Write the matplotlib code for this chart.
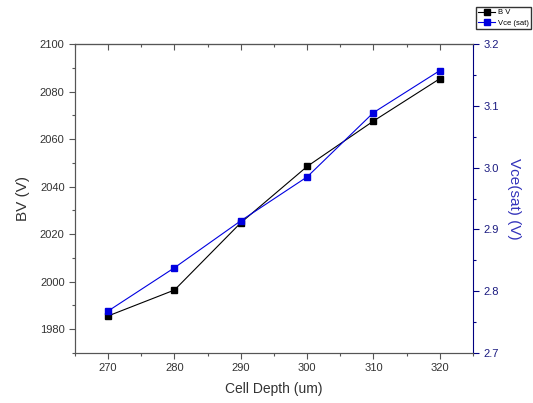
import matplotlib
matplotlib.use("Agg")
import matplotlib.pyplot as plt
from matplotlib.ticker import MultipleLocator

plt.rcParams['font.family'] = ['Liberation Sans', 'DejaVu Sans']

# data
cell_depth = [270, 280, 290, 300, 310, 320]
bv = [1985.6, 1996.5, 2024.8, 2048.5, 2067.6, 2085.4]
vce_sat = [2.768, 2.838, 2.914, 2.985, 3.089, 3.157]

fig = plt.figure(figsize=(5.33, 4.03), dpi=100)
ax = fig.add_axes([75 / 533, 1 - 353 / 403, (473 - 75) / 533, (353 - 44) / 403])
ax2 = ax.twinx()

l1, = ax.plot(cell_depth, bv, color='black', lw=0.8, marker='s', ms=5,
              label='B V', zorder=3)
l2, = ax2.plot(cell_depth, vce_sat, color='#0000e0', lw=0.8, marker='s', ms=5,
               label='Vce (sat)', zorder=3)

ax.set_xlim(265, 325)
ax.set_ylim(1970, 2100)
ax2.set_ylim(2.7, 3.2)

ax.xaxis.set_major_locator(MultipleLocator(10))
ax.xaxis.set_minor_locator(MultipleLocator(5))
ax.yaxis.set_major_locator(MultipleLocator(20))
ax.yaxis.set_minor_locator(MultipleLocator(10))
ax2.yaxis.set_major_locator(MultipleLocator(0.1))
ax2.yaxis.set_minor_locator(MultipleLocator(0.05))
ax2.yaxis.set_major_formatter(plt.FormatStrFormatter('%.1f'))

tick_gray = '#333333'
ax.tick_params(axis='both', which='major', length=4, width=0.8, labelsize=8,
               colors='#555555', labelcolor=tick_gray, direction='out')
ax.tick_params(axis='both', which='minor', length=2.5, width=0.8,
               colors='#555555', direction='out')
ax2.tick_params(axis='y', which='major', length=4, width=0.8, labelsize=8,
                colors='#000080', labelcolor='#1a1a80', direction='out')
ax2.tick_params(axis='y', which='minor', length=2.5, width=0.8,
                colors='#000080', direction='out')

# top axis: ticks pointing inward, no labels
top = ax.secondary_xaxis('top')
top.xaxis.set_major_locator(MultipleLocator(10))
top.xaxis.set_minor_locator(MultipleLocator(5))
top.tick_params(which='major', direction='in', length=4, width=0.8,
                colors='#555555', labeltop=False)
top.tick_params(which='minor', direction='in', length=2.5, width=0.8,
                colors='#555555')
top.spines['top'].set_color('#555555')

for s in ['left', 'bottom', 'top']:
    ax.spines[s].set_color('#555555')
    ax2.spines[s].set_color('#555555')
ax2.spines['right'].set_color('#000080')
ax.spines['right'].set_visible(False)

ax.set_xlabel('Cell Depth (um)', fontsize=10, color='#333333', labelpad=6)
ax.set_ylabel('BV (V)', fontsize=11, color='#333333', labelpad=7)
ax2.set_ylabel('Vce(sat) (V)', fontsize=11, color='#3333bb', rotation=270,
               labelpad=16)

fig.legend(handles=[l1, l2], loc='upper left', bbox_to_anchor=(472 / 533, 1 - 3 / 403),
           fontsize=5.5, frameon=True, fancybox=False, edgecolor='black',
           handlelength=2.2, borderpad=0.3, labelspacing=0.4, handletextpad=0.4,
           markerscale=0.8)

fig.savefig('out.png', dpi=100)
